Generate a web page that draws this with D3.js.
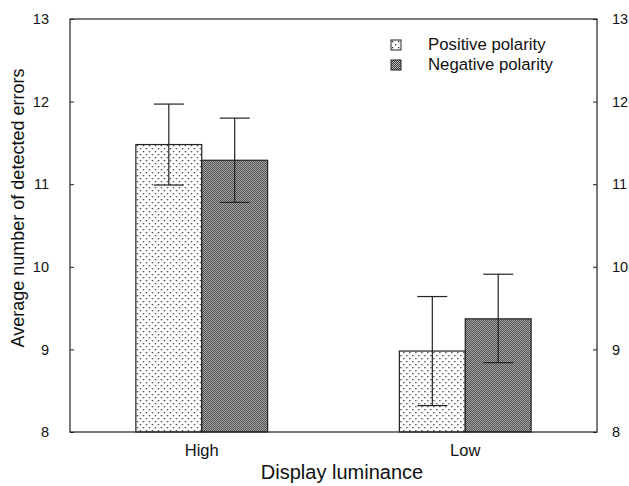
<!DOCTYPE html>
<html>
<head>
<meta charset="utf-8">
<script src="https://cdn.jsdelivr.net/npm/d3@7"></script>
<style>
  body { margin: 0; background: #fff; }
  text { font-family: "Liberation Sans", Arial, sans-serif; fill: #111; }
</style>
</head>
<body>
<svg id="chart" width="629" height="486"></svg>
<script>
// data
var categories = ['High', 'Low'];
var series = ['Positive polarity', 'Negative polarity'];
var means = [[11.48, 11.29], [8.98, 9.37]];
var lows = [[10.99, 10.78], [8.32, 8.84]];
var highs = [[11.97, 11.80], [9.64, 9.91]];
var yTicks = [8, 9, 10, 11, 12, 13];

var svg = d3.select('#chart');
var mLeft = 70, mRight = 597, mTop = 19, mBottom = 432;

var defs = svg.append('defs');
// sparse dots
var p1 = defs.append('pattern').attr('id', 'dots')
  .attr('patternUnits', 'userSpaceOnUse').attr('width', 6).attr('height', 6);
p1.append('rect').attr('width', 6).attr('height', 6).attr('fill', '#fff');
p1.append('rect').attr('x', 1).attr('y', 1).attr('width', 1.3).attr('height', 1.3).attr('fill', '#333');
p1.append('rect').attr('x', 4).attr('y', 4).attr('width', 1.3).attr('height', 1.3).attr('fill', '#333');
// dense checker
var p2 = defs.append('pattern').attr('id', 'dense')
  .attr('patternUnits', 'userSpaceOnUse').attr('width', 2).attr('height', 2);
p2.append('rect').attr('width', 2).attr('height', 2).attr('fill', '#c4c4c4');
p2.append('rect').attr('width', 1).attr('height', 1).attr('fill', '#333');
p2.append('rect').attr('x', 1).attr('y', 1).attr('width', 1).attr('height', 1).attr('fill', '#333');
var fills = ['url(#dots)', 'url(#dense)'];

var x = d3.scaleBand().domain(categories).range([mLeft, mRight]).padding(0);
var xs = d3.scaleBand().domain(series).range([-x.bandwidth() / 4, x.bandwidth() / 4]);
var y = d3.scaleLinear().domain([8, 13]).range([mBottom, mTop]);

// bars
categories.forEach(function(c, i) {
  var g = svg.append('g').attr('transform', 'translate(' + (x(c) + x.bandwidth() / 2) + ',0)');
  series.forEach(function(s, j) {
    g.append('rect')
      .attr('x', xs(s))
      .attr('y', y(means[i][j]))
      .attr('width', xs.bandwidth())
      .attr('height', y(8) - y(means[i][j]))
      .attr('fill', fills[j])
      .attr('stroke', '#222')
      .attr('stroke-width', 1.2);
    var cx = xs(s) + xs.bandwidth() / 2;
    g.append('line').attr('x1', cx).attr('x2', cx)
      .attr('y1', y(lows[i][j])).attr('y2', y(highs[i][j]))
      .attr('stroke', '#222').attr('stroke-width', 1.2);
    [lows[i][j], highs[i][j]].forEach(function(v) {
      g.append('line').attr('x1', cx - 15).attr('x2', cx + 15)
        .attr('y1', y(v)).attr('y2', y(v))
        .attr('stroke', '#222').attr('stroke-width', 1.2);
    });
  });
});

// frame
svg.append('rect').attr('x', mLeft).attr('y', mTop)
  .attr('width', mRight - mLeft).attr('height', mBottom - mTop)
  .attr('fill', 'none').attr('stroke', '#222').attr('stroke-width', 1.2);

// axes
var yl = svg.append('g').attr('transform', 'translate(' + mLeft + ',0)')
  .call(d3.axisLeft(y).tickValues(yTicks).tickFormat(d3.format('d')).tickSizeInner(-4).tickSizeOuter(0).tickPadding(21));
var yr = svg.append('g').attr('transform', 'translate(' + mRight + ',0)')
  .call(d3.axisRight(y).tickValues(yTicks).tickFormat(d3.format('d')).tickSizeInner(-4).tickSizeOuter(0).tickPadding(15));
var xa = svg.append('g').attr('transform', 'translate(0,' + mBottom + ')')
  .call(d3.axisBottom(x).tickSize(0).tickPadding(12));
[yl, yr, xa].forEach(function(a) {
  a.select('.domain').remove();
  a.selectAll('text').attr('font-size', 14.5).attr('font-family', '"Liberation Sans", Arial, sans-serif').attr('fill', '#111');
  a.selectAll('line').attr('stroke', '#222');
});
xa.selectAll('text').attr('font-size', 16.5);

// titles
svg.append('text').attr('x', 342).attr('y', 479)
  .attr('text-anchor', 'middle').attr('font-size', 20).text('Display luminance');
svg.append('text').attr('transform', 'translate(24,208) rotate(-90)')
  .attr('text-anchor', 'middle').attr('font-size', 18).text('Average number of detected errors');

// legend
var leg = svg.append('g').attr('transform', 'translate(391,40)');
series.forEach(function(s, j) {
  leg.append('rect').attr('x', 0).attr('y', j * 20).attr('width', 10).attr('height', 10)
    .attr('fill', fills[j]).attr('stroke', '#222').attr('stroke-width', 1);
  leg.append('text').attr('x', 37).attr('y', j * 20 + 10).attr('font-size', 16.8).text(s);
});
</script>
</body>
</html>
